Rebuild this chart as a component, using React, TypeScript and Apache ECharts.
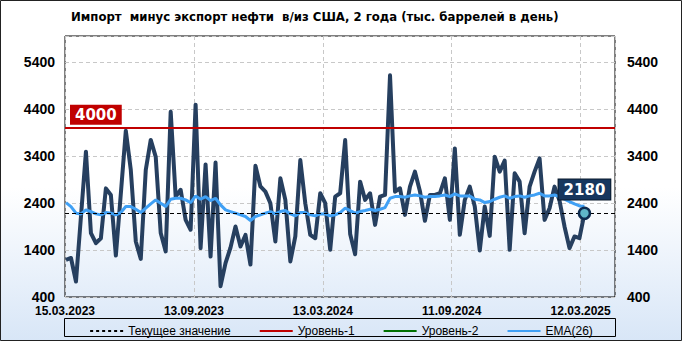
import React, { useEffect, useRef } from "react";
import * as echarts from "echarts";

const titleText = "Импорт  минус экспорт нефти  в/из США, 2 года (тыс. баррелей в день)";
const xTickLabels = ["15.03.2023", "13.09.2023", "13.03.2024", "11.09.2024", "12.03.2025"];
const legendNames = ["Текущее значение", "Уровень-1", "Уровень-2", "EMA(26)"];

const netImports = [
  1190, 1230, 730, 2110, 3490, 1760, 1545, 1650, 2710, 2570,
  1280, 2600, 3935, 3100, 1580, 1210, 3100, 3740, 3380, 1760,
  1370, 4340, 2535, 2680, 2040, 1830, 4490, 1440, 3220, 1260,
  3260, 630, 1120, 1450, 1900, 1475, 1720, 1090, 3190, 2750,
  2640, 2394, 1580, 2924, 2465, 1156, 1687, 3313, 2394, 1720,
  1650, 2606, 2394, 1404, 2535, 2606, 3737, 1740, 1310, 2853,
  2465, 2606, 1934, 2535, 2570, 5116, 2640, 2712, 2146, 2747,
  3065, 2650, 2020, 2570, 2570, 2606, 2924, 2040, 3560, 1722,
  2465, 2747, 2323, 1390, 2323, 1700, 3383, 3065, 3299, 1404,
  3030, 2853, 1757, 2747, 3065, 3348, 2040, 2288, 2747, 2450,
  1900, 1440, 1687, 1650, 2180,
];

const ema26 = [
  2408, 2323, 2182, 2167, 2252, 2217, 2167, 2146, 2196, 2182,
  2146, 2196, 2323, 2323, 2266, 2196, 2288, 2380, 2465, 2394,
  2323, 2479, 2500, 2500, 2465, 2408, 2550, 2479, 2535, 2450,
  2500, 2358, 2252, 2217, 2182, 2146, 2111, 2026, 2111, 2146,
  2182, 2217, 2167, 2217, 2238, 2167, 2125, 2196, 2196, 2146,
  2125, 2167, 2167, 2125, 2146, 2196, 2288, 2238, 2182, 2217,
  2238, 2266, 2238, 2266, 2302, 2500, 2535, 2535, 2521, 2550,
  2570, 2550, 2521, 2535, 2535, 2550, 2570, 2535, 2592, 2550,
  2550, 2550, 2479, 2465, 2408, 2430, 2479, 2521, 2550, 2500,
  2535, 2550, 2521, 2550, 2570, 2606, 2550, 2550, 2570, 2535,
  2479, 2430, 2380, 2337, 2330,
];

const currentValue = 2180;
const level1 = 4000;

const X_MIN = -0.2;
const X_MAX = 110.13;
const X_INT = 25.86;

export default function App() {
  const ref = useRef<HTMLDivElement>(null);
  useEffect(() => {
    if (!ref.current) return;
    const chart = echarts.init(ref.current, undefined, { renderer: "svg" });
    const font = "'Liberation Sans', Arial, sans-serif";
    const lastIdx = netImports.length - 1;
    const option: any = {
      animation: false,
      backgroundColor: new echarts.graphic.LinearGradient(0, 0, 0, 1, [
        { offset: 0, color: "#ffffff" },
        { offset: 0.55, color: "#ffffff" },
        { offset: 1, color: "#d8e6f7" },
      ]),
      title: {
        text: titleText,
        left: 66,
        top: 5,
        textStyle: { fontSize: 13, fontWeight: "bold", color: "#000", fontFamily: "'DejaVu Sans Condensed', 'Liberation Sans Narrow', 'Liberation Sans', sans-serif" },
      },
      grid: { left: 65, right: 67, top: 36, bottom: 44, show: true, borderColor: "#000", borderWidth: 1, backgroundColor: "transparent" },
      legend: {
        data: legendNames,
        left: "center",
        top: 320,
        itemWidth: 33,
        itemHeight: 10,
        itemGap: 28,
        itemStyle: { opacity: 0 },
        textStyle: { fontSize: 12, color: "#000", fontFamily: font },
      },
      xAxis: {
        type: "value",
        min: X_MIN,
        max: X_MAX,
        interval: X_INT,
        axisLine: { show: false },
        axisTick: { show: false },
        splitLine: { show: true, lineStyle: { color: "#c8c8c8", type: [4, 3], width: 1 } },
        axisLabel: {
          showMinLabel: true,
          showMaxLabel: false,
          margin: 8,
          fontSize: 12,
          fontWeight: "bold",
          color: "#000",
          fontFamily: font,
          formatter: (v: number) => {
            const k = Math.round((v - X_MIN) / X_INT);
            if (Math.abs(v - (X_MIN + k * X_INT)) < 0.05 && k >= 0 && k < xTickLabels.length) return xTickLabels[k];
            return "";
          },
        },
      },
      yAxis: [
        {
          type: "value",
          min: 400,
          max: 5950,
          interval: 1000,
          axisLine: { show: false },
          axisTick: { show: false },
          splitLine: { show: true, lineStyle: { color: "#c8c8c8", type: [4, 3], width: 1 } },
          axisLabel: { showMaxLabel: false, margin: 10, fontSize: 14, fontWeight: "bold", color: "#000", fontFamily: font, formatter: (v: number) => String(Math.round(v)) },
        },
        {
          type: "value",
          position: "right",
          min: 400,
          max: 5950,
          interval: 1000,
          axisLine: { show: false },
          axisTick: { show: false },
          splitLine: { show: false },
          axisLabel: { showMaxLabel: false, margin: 12, fontSize: 14, fontWeight: "bold", color: "#000", fontFamily: font, formatter: (v: number) => String(Math.round(v)) },
        },
      ],
      series: [
        {
          name: legendNames[0],
          type: "line",
          data: [],
          symbol: "none",
          lineStyle: { color: "#000", type: [3, 3], width: 1.5 },
          itemStyle: { color: "#000" },
        },
        {
          name: legendNames[1],
          type: "line",
          data: [],
          symbol: "none",
          lineStyle: { color: "#c00000", width: 3 },
          itemStyle: { color: "#c00000" },
        },
        {
          name: legendNames[2],
          type: "line",
          data: [],
          symbol: "none",
          lineStyle: { color: "#007000", width: 3 },
          itemStyle: { color: "#007000" },
        },
        {
          name: "Нетто-импорт",
          type: "line",
          data: netImports.map((v, i) => [i, v]),
          symbol: "none",
          z: 3,
          lineStyle: { color: "#263f5f", width: 4, join: "round" },
          markLine: {
            silent: true,
            symbol: "none",
            animation: false,
            data: [
              {
                yAxis: currentValue,
                lineStyle: { color: "#000", type: [4, 3], width: 1 },
                label: { show: false },
              },
              {
                yAxis: level1,
                lineStyle: { color: "#c00000", type: "solid", width: 2 },
                label: {
                  show: true,
                  position: "insideStartTop",
                  distance: [5, 3],
                  formatter: String(level1),
                  color: "#fff",
                  backgroundColor: "#c00000",
                  fontFamily: "'DejaVu Sans', sans-serif",
                  fontWeight: "bold",
                  fontSize: 15,
                  padding: [3, 5, 2, 5],
                },
              },
            ],
          },
        },
        {
          name: legendNames[3],
          type: "line",
          data: ema26.map((v, i) => [i, v]),
          symbol: "none",
          z: 4,
          lineStyle: { color: "#3fa0f5", width: 3 },
          itemStyle: { color: "#3fa0f5" },
        },
        {
          name: "last",
          type: "scatter",
          z: 6,
          data: [[lastIdx, currentValue]],
          symbol: "circle",
          symbolSize: 11,
          itemStyle: { color: "#5fb7c9", borderColor: "#0e2c50", borderWidth: 2.5, opacity: 1 },
          label: {
            show: true,
            position: "top",
            distance: 7,
            formatter: String(currentValue),
            color: "#fff",
            backgroundColor: "#17375e",
            borderColor: "#0a1a2c",
            borderWidth: 1,
            fontFamily: "'DejaVu Sans', sans-serif",
            fontWeight: "bold",
            fontSize: 15,
            padding: [3, 5, 2, 5],
          },
        },
      ],
      graphic: [
        { type: "rect", shape: { x: 64.5, y: 318.5, width: 551, height: 18 }, style: { fill: "none", stroke: "#000", lineWidth: 1 }, silent: true },
        { type: "rect", shape: { x: 0.5, y: 0.5, width: 681, height: 340 }, style: { fill: "none", stroke: "#222", lineWidth: 1 }, silent: true },
      ],
    };
    chart.setOption(option);
    return () => chart.dispose();
  }, []);
  return <div ref={ref} style={{ position: "fixed", left: 0, top: 0, width: 682, height: 341 }} />;
}
